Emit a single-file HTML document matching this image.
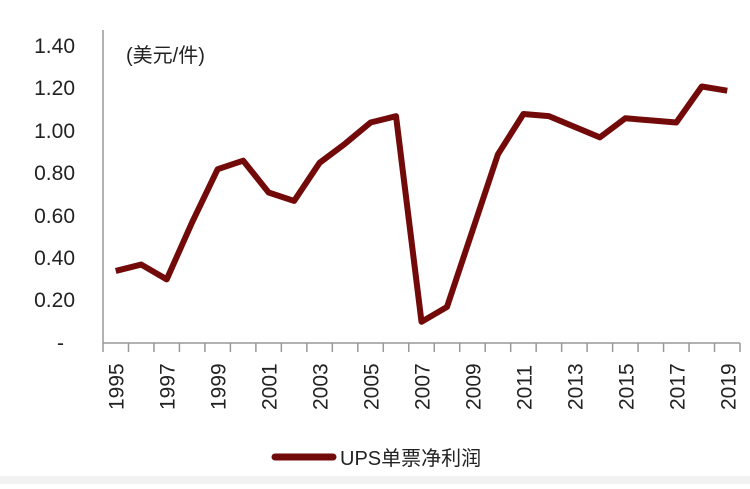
<!DOCTYPE html>
<html><head><meta charset="utf-8"><style>
body{margin:0;background:#fff;}
svg text{font-family:"Liberation Sans","Noto Sans CJK SC",sans-serif;fill:#222;}
</style></head><body>
<svg width="750" height="484" xmlns="http://www.w3.org/2000/svg">
<rect width="750" height="484" fill="#fff"/>
<rect x="0" y="476" width="750" height="8" fill="#f2f2f2"/>
<g font-size="21" text-anchor="end">
<text x="75" y="53">1.40</text><text x="75" y="95">1.20</text><text x="75" y="138">1.00</text>
<text x="75" y="180">0.80</text><text x="75" y="223">0.60</text><text x="75" y="265">0.40</text>
<text x="75" y="307">0.20</text><text x="64" y="350">-</text>
</g>
<text x="126" y="62" font-size="20">(美元/件)</text>
<line x1="103" y1="30" x2="103" y2="343" stroke="#999" stroke-width="1.5"/>
<line x1="103" y1="343" x2="740" y2="343" stroke="#999" stroke-width="1.5"/>
<g stroke="#999" stroke-width="1.5" id="ticks"></g>
<g id="labels" font-size="21"></g>
<polyline id="ln" fill="none" stroke="#730a0a" stroke-width="6" stroke-linejoin="round"/>
<line x1="275" y1="457" x2="333" y2="457" stroke="#730a0a" stroke-width="7" stroke-linecap="round"/>
<text x="340" y="465" font-size="20">UPS单票净利润</text>
<script>
var v=[0.34,0.37,0.30,0.57,0.82,0.86,0.71,0.67,0.85,0.94,1.04,1.07,0.10,0.17,0.53,0.89,1.08,1.07,1.02,0.97,1.06,1.05,1.04,1.21,1.19];
var w=25.48,pts=[],t=document.getElementById('ticks'),l=document.getElementById('labels'),ns='http://www.w3.org/2000/svg';
for(var i=0;i<=25;i++){var x=103+i*w;var e=document.createElementNS(ns,'line');e.setAttribute('x1',x);e.setAttribute('x2',x);e.setAttribute('y1',343);e.setAttribute('y2',352);t.appendChild(e);}
for(var i=0;i<25;i++){var x=103+(i+0.5)*w;pts.push(x+','+(343-v[i]*212));
if(i%2==0){var s=document.createElementNS(ns,'text');s.setAttribute('transform','translate('+(x+8)+',410) rotate(-90)');s.textContent=1995+i;l.appendChild(s);}}
document.getElementById('ln').setAttribute('points',pts.join(' '));
</script>
</svg>
</body></html>
